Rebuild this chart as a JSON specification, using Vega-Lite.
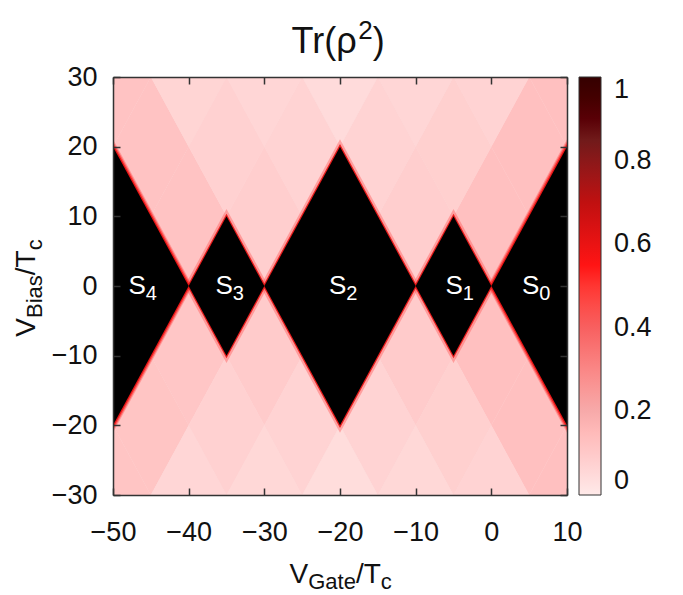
{
  "$schema": "https://vega.github.io/schema/vega-lite/v6.json",
  "width": 454,
  "height": 418,
  "autosize": {"type": "none"},
  "padding": {"left": 113, "top": 77, "right": 116, "bottom": 100},
  "background": "white",
  "config": {"font": "Liberation Sans", "view": {"stroke": null, "fill": "#fbdada"}},
  "datasets": {
    "cells": [
      {"id": 1, "x": -45, "y": 10, "y2": 10, "v": 0.12}, {"id": 1, "x": -40, "y": 20, "y2": 0, "v": 0.12}, {"id": 1, "x": -35, "y": 10, "y2": 10, "v": 0.12},
      {"id": 2, "x": -35, "y": 10, "y2": 10, "v": 0.085}, {"id": 2, "x": -30, "y": 20, "y2": 0, "v": 0.085}, {"id": 2, "x": -25, "y": 10, "y2": 10, "v": 0.085},
      {"id": 3, "x": -15, "y": 10, "y2": 10, "v": 0.085}, {"id": 3, "x": -10, "y": 20, "y2": 0, "v": 0.085}, {"id": 3, "x": -5, "y": 10, "y2": 10, "v": 0.085},
      {"id": 4, "x": -5, "y": 10, "y2": 10, "v": 0.13}, {"id": 4, "x": 0, "y": 20, "y2": 0, "v": 0.13}, {"id": 4, "x": 5, "y": 10, "y2": 10, "v": 0.13},
      {"id": 5, "x": -50, "y": 20, "y2": 20, "v": 0.12}, {"id": 5, "x": -45, "y": 30, "y2": 10, "v": 0.12}, {"id": 5, "x": -40, "y": 20, "y2": 20, "v": 0.12},
      {"id": 6, "x": -40, "y": 20, "y2": 20, "v": 0.075}, {"id": 6, "x": -35, "y": 30, "y2": 10, "v": 0.075}, {"id": 6, "x": -30, "y": 20, "y2": 20, "v": 0.075},
      {"id": 7, "x": -30, "y": 20, "y2": 20, "v": 0.07}, {"id": 7, "x": -25, "y": 30, "y2": 10, "v": 0.07}, {"id": 7, "x": -20, "y": 20, "y2": 20, "v": 0.07},
      {"id": 8, "x": -20, "y": 20, "y2": 20, "v": 0.07}, {"id": 8, "x": -15, "y": 30, "y2": 10, "v": 0.07}, {"id": 8, "x": -10, "y": 20, "y2": 20, "v": 0.07},
      {"id": 9, "x": -10, "y": 20, "y2": 20, "v": 0.08}, {"id": 9, "x": -5, "y": 30, "y2": 10, "v": 0.08}, {"id": 9, "x": 0, "y": 20, "y2": 20, "v": 0.08},
      {"id": 10, "x": 0, "y": 20, "y2": 20, "v": 0.13}, {"id": 10, "x": 5, "y": 30, "y2": 10, "v": 0.13}, {"id": 10, "x": 10, "y": 20, "y2": 20, "v": 0.13},
      {"id": 11, "x": -55, "y": 30, "y2": 30, "v": 0.12}, {"id": 11, "x": -50, "y": 40, "y2": 20, "v": 0.12}, {"id": 11, "x": -45, "y": 30, "y2": 30, "v": 0.12},
      {"id": 12, "x": -45, "y": 30, "y2": 30, "v": 0.065}, {"id": 12, "x": -40, "y": 40, "y2": 20, "v": 0.065}, {"id": 12, "x": -35, "y": 30, "y2": 30, "v": 0.065},
      {"id": 13, "x": -35, "y": 30, "y2": 30, "v": 0.06}, {"id": 13, "x": -30, "y": 40, "y2": 20, "v": 0.06}, {"id": 13, "x": -25, "y": 30, "y2": 30, "v": 0.06},
      {"id": 14, "x": -25, "y": 30, "y2": 30, "v": 0.045}, {"id": 14, "x": -20, "y": 40, "y2": 20, "v": 0.045}, {"id": 14, "x": -15, "y": 30, "y2": 30, "v": 0.045},
      {"id": 15, "x": -15, "y": 30, "y2": 30, "v": 0.06}, {"id": 15, "x": -10, "y": 40, "y2": 20, "v": 0.06}, {"id": 15, "x": -5, "y": 30, "y2": 30, "v": 0.06},
      {"id": 16, "x": -5, "y": 30, "y2": 30, "v": 0.07}, {"id": 16, "x": 0, "y": 40, "y2": 20, "v": 0.07}, {"id": 16, "x": 5, "y": 30, "y2": 30, "v": 0.07},
      {"id": 17, "x": 5, "y": 30, "y2": 30, "v": 0.13}, {"id": 17, "x": 10, "y": 40, "y2": 20, "v": 0.13}, {"id": 17, "x": 15, "y": 30, "y2": 30, "v": 0.13},
      {"id": 18, "x": -45, "y": -10, "y2": -10, "v": 0.11}, {"id": 18, "x": -40, "y": 0, "y2": -20, "v": 0.11}, {"id": 18, "x": -35, "y": -10, "y2": -10, "v": 0.11},
      {"id": 19, "x": -35, "y": -10, "y2": -10, "v": 0.095}, {"id": 19, "x": -30, "y": 0, "y2": -20, "v": 0.095}, {"id": 19, "x": -25, "y": -10, "y2": -10, "v": 0.095},
      {"id": 20, "x": -15, "y": -10, "y2": -10, "v": 0.095}, {"id": 20, "x": -10, "y": 0, "y2": -20, "v": 0.095}, {"id": 20, "x": -5, "y": -10, "y2": -10, "v": 0.095},
      {"id": 21, "x": -5, "y": -10, "y2": -10, "v": 0.13}, {"id": 21, "x": 0, "y": 0, "y2": -20, "v": 0.13}, {"id": 21, "x": 5, "y": -10, "y2": -10, "v": 0.13},
      {"id": 22, "x": -50, "y": -20, "y2": -20, "v": 0.115}, {"id": 22, "x": -45, "y": -10, "y2": -30, "v": 0.115}, {"id": 22, "x": -40, "y": -20, "y2": -20, "v": 0.115},
      {"id": 23, "x": -40, "y": -20, "y2": -20, "v": 0.075}, {"id": 23, "x": -35, "y": -10, "y2": -30, "v": 0.075}, {"id": 23, "x": -30, "y": -20, "y2": -20, "v": 0.075},
      {"id": 24, "x": -30, "y": -20, "y2": -20, "v": 0.07}, {"id": 24, "x": -25, "y": -10, "y2": -30, "v": 0.07}, {"id": 24, "x": -20, "y": -20, "y2": -20, "v": 0.07},
      {"id": 25, "x": -20, "y": -20, "y2": -20, "v": 0.07}, {"id": 25, "x": -15, "y": -10, "y2": -30, "v": 0.07}, {"id": 25, "x": -10, "y": -20, "y2": -20, "v": 0.07},
      {"id": 26, "x": -10, "y": -20, "y2": -20, "v": 0.08}, {"id": 26, "x": -5, "y": -10, "y2": -30, "v": 0.08}, {"id": 26, "x": 0, "y": -20, "y2": -20, "v": 0.08},
      {"id": 27, "x": 0, "y": -20, "y2": -20, "v": 0.13}, {"id": 27, "x": 5, "y": -10, "y2": -30, "v": 0.13}, {"id": 27, "x": 10, "y": -20, "y2": -20, "v": 0.13},
      {"id": 28, "x": -55, "y": -30, "y2": -30, "v": 0.115}, {"id": 28, "x": -50, "y": -20, "y2": -40, "v": 0.115}, {"id": 28, "x": -45, "y": -30, "y2": -30, "v": 0.115},
      {"id": 29, "x": -45, "y": -30, "y2": -30, "v": 0.06}, {"id": 29, "x": -40, "y": -20, "y2": -40, "v": 0.06}, {"id": 29, "x": -35, "y": -30, "y2": -30, "v": 0.06},
      {"id": 30, "x": -35, "y": -30, "y2": -30, "v": 0.055}, {"id": 30, "x": -30, "y": -20, "y2": -40, "v": 0.055}, {"id": 30, "x": -25, "y": -30, "y2": -30, "v": 0.055},
      {"id": 31, "x": -25, "y": -30, "y2": -30, "v": 0.04}, {"id": 31, "x": -20, "y": -20, "y2": -40, "v": 0.04}, {"id": 31, "x": -15, "y": -30, "y2": -30, "v": 0.04},
      {"id": 32, "x": -15, "y": -30, "y2": -30, "v": 0.055}, {"id": 32, "x": -10, "y": -20, "y2": -40, "v": 0.055}, {"id": 32, "x": -5, "y": -30, "y2": -30, "v": 0.055},
      {"id": 33, "x": -5, "y": -30, "y2": -30, "v": 0.07}, {"id": 33, "x": 0, "y": -20, "y2": -40, "v": 0.07}, {"id": 33, "x": 5, "y": -30, "y2": -30, "v": 0.07},
      {"id": 34, "x": 5, "y": -30, "y2": -30, "v": 0.13}, {"id": 34, "x": 10, "y": -20, "y2": -40, "v": 0.13}, {"id": 34, "x": 15, "y": -30, "y2": -30, "v": 0.13}
    ],
    "diamonds": [
      {"s": "S4", "x": -60, "y": 40, "y2": -40}, {"s": "S4", "x": -40, "y": 0, "y2": 0},
      {"s": "S3", "x": -40, "y": 0, "y2": 0}, {"s": "S3", "x": -35, "y": 10, "y2": -10}, {"s": "S3", "x": -30, "y": 0, "y2": 0},
      {"s": "S2", "x": -30, "y": 0, "y2": 0}, {"s": "S2", "x": -20, "y": 20, "y2": -20}, {"s": "S2", "x": -10, "y": 0, "y2": 0},
      {"s": "S1", "x": -10, "y": 0, "y2": 0}, {"s": "S1", "x": -5, "y": 10, "y2": -10}, {"s": "S1", "x": 0, "y": 0, "y2": 0},
      {"s": "S0", "x": 0, "y": 0, "y2": 0}, {"s": "S0", "x": 20, "y": 40, "y2": -40}
    ],
    "edges": [
      {"s": "S4", "o": 1, "x": -60, "y": 40}, {"s": "S4", "o": 2, "x": -40, "y": 0}, {"s": "S4", "o": 3, "x": -60, "y": -40},
      {"s": "S3", "o": 1, "x": -40, "y": 0}, {"s": "S3", "o": 2, "x": -35, "y": 10}, {"s": "S3", "o": 3, "x": -30, "y": 0}, {"s": "S3", "o": 4, "x": -35, "y": -10}, {"s": "S3", "o": 5, "x": -40, "y": 0},
      {"s": "S2", "o": 1, "x": -30, "y": 0}, {"s": "S2", "o": 2, "x": -20, "y": 20}, {"s": "S2", "o": 3, "x": -10, "y": 0}, {"s": "S2", "o": 4, "x": -20, "y": -20}, {"s": "S2", "o": 5, "x": -30, "y": 0},
      {"s": "S1", "o": 1, "x": -10, "y": 0}, {"s": "S1", "o": 2, "x": -5, "y": 10}, {"s": "S1", "o": 3, "x": 0, "y": 0}, {"s": "S1", "o": 4, "x": -5, "y": -10}, {"s": "S1", "o": 5, "x": -10, "y": 0},
      {"s": "S0", "o": 1, "x": 20, "y": 40}, {"s": "S0", "o": 2, "x": 0, "y": 0}, {"s": "S0", "o": 3, "x": 20, "y": -40}
    ],
    "labels": [
      {"x": -45.8, "y": 0, "n": "4"},
      {"x": -34.3, "y": 0, "n": "3"},
      {"x": -19.3, "y": 0, "n": "2"},
      {"x": -3.9, "y": 0, "n": "1"},
      {"x": 6.2, "y": 0, "n": "0"}
    ]
  },
  "resolve": {"axis": {"x": "independent", "y": "independent"}},
  "layer": [
    {
      "data": {"name": "cells"},
      "mark": {"type": "area", "clip": true, "interpolate": "linear"},
      "encoding": {
        "x": {"field": "x", "type": "quantitative",
          "scale": {"domain": [-50, 10], "nice": false, "zero": false},
          "axis": {"orient": "bottom", "values": [-50, -40, -30, -20, -10, 0, 10], "grid": false, "domain": true, "domainColor": "#333", "domainWidth": 1.5,
            "ticks": true, "tickSize": -7, "tickColor": "#333", "tickWidth": 1.5, "labelFontSize": 27, "labelColor": "#111", "labelPadding": 31, "labelFlush": false, "zindex": 1,
            "title": "V", "titleFontSize": 28, "titleFontWeight": "normal", "titleColor": "#111", "titleX": 176, "titleY": 87, "titleAlign": "left", "titleBaseline": "alphabetic", "titleAngle": 0}},
        "y": {"field": "y", "type": "quantitative",
          "scale": {"domain": [-30, 30], "nice": false, "zero": false},
          "axis": {"orient": "left", "values": [-30, -20, -10, 0, 10, 20, 30], "grid": false, "domain": true, "domainColor": "#333", "domainWidth": 1.5,
            "ticks": true, "tickSize": -7, "tickColor": "#333", "tickWidth": 1.5, "labelFontSize": 27, "labelColor": "#111", "labelPadding": 23, "labelFlush": false, "zindex": 1,
            "title": "V", "titleFontSize": 28, "titleFontWeight": "normal", "titleColor": "#111", "titleX": -78.5, "titleY": 259.2, "titleAlign": "left", "titleBaseline": "alphabetic", "titleAngle": -90}},
        "y2": {"field": "y2"},
        "detail": {"field": "id"},
        "color": {"field": "v", "type": "quantitative",
          "scale": {"domain": [0, 0.2, 0.4, 0.55, 0.7, 0.85, 1], "range": ["#ffffff", "#f7aaaa", "#f86060", "#ff1414", "#c01010", "#701a1a", "#000000"]},
          "legend": {"title": null, "orient": "right", "offset": 11, "direction": "vertical", "gradientLength": 418, "gradientThickness": 22,
            "gradientStrokeColor": "#333", "gradientStrokeWidth": 1, "labelFontSize": 27, "labelColor": "#111", "labelOffset": 13,
            "values": [0, 0.2, 0.4, 0.6, 0.8, 1], "format": "~g", "labelOverlap": false, "padding": 0}}
      }
    },
    {
      "data": {"name": "edges"},
      "mark": {"type": "line", "clip": true, "strokeWidth": 7, "opacity": 0.4, "color": "#ff5050"},
      "encoding": {
        "x": {"field": "x", "type": "quantitative",
          "axis": {"orient": "top", "values": [-50, -40, -30, -20, -10, 0, 10], "grid": false, "domain": true, "domainColor": "#333", "domainWidth": 1.5,
            "ticks": true, "tickSize": -7, "tickColor": "#333", "tickWidth": 1.5, "labels": false, "zindex": 1,
            "title": "Tr(ρ", "titleFontSize": 36, "titleFontWeight": "normal", "titleColor": "#111", "titleX": 178, "titleY": -25, "titleAlign": "left", "titleBaseline": "alphabetic", "titleAngle": 0}},
        "y": {"field": "y", "type": "quantitative",
          "axis": {"orient": "right", "values": [-30, -20, -10, 0, 10, 20, 30], "grid": false, "domain": true, "domainColor": "#333", "domainWidth": 1.5,
            "ticks": true, "tickSize": -7, "tickColor": "#333", "tickWidth": 1.5, "labels": false, "zindex": 1, "title": null}},
        "detail": {"field": "s"},
        "order": {"field": "o"}
      }
    },
    {
      "data": {"name": "edges"},
      "transform": [{"filter": {"field": "s", "oneOf": ["S4", "S0"]}}],
      "mark": {"type": "line", "clip": true, "strokeWidth": 5, "opacity": 0.55, "color": "#ff2020"},
      "encoding": {
        "x": {"field": "x", "type": "quantitative", "axis": null},
        "y": {"field": "y", "type": "quantitative", "axis": null},
        "detail": {"field": "s"},
        "order": {"field": "o"}
      }
    },
    {
      "data": {"name": "edges"},
      "mark": {"type": "line", "clip": true, "strokeWidth": 2.5, "opacity": 0.9, "color": "#e81010"},
      "encoding": {
        "x": {"field": "x", "type": "quantitative",
          "axis": {"orient": "bottom", "grid": false, "domain": false, "ticks": false, "labels": false, "zindex": 1,
            "title": "Gate", "titleFontSize": 22, "titleFontWeight": "normal", "titleColor": "#111", "titleX": 194.7, "titleY": 93, "titleAlign": "left", "titleBaseline": "alphabetic", "titleAngle": 0}},
        "y": {"field": "y", "type": "quantitative",
          "axis": {"orient": "left", "grid": false, "domain": false, "ticks": false, "labels": false, "zindex": 1,
            "title": "Bias", "titleFontSize": 22, "titleFontWeight": "normal", "titleColor": "#111", "titleX": -71.5, "titleY": 240.5, "titleAlign": "left", "titleBaseline": "alphabetic", "titleAngle": -90}},
        "detail": {"field": "s"},
        "order": {"field": "o"}
      }
    },
    {
      "data": {"name": "diamonds"},
      "mark": {"type": "area", "clip": true, "interpolate": "linear", "color": "#000000"},
      "encoding": {
        "x": {"field": "x", "type": "quantitative",
          "axis": {"orient": "bottom", "grid": false, "domain": false, "ticks": false, "labels": false, "zindex": 1,
            "title": "/T", "titleFontSize": 28, "titleFontWeight": "normal", "titleColor": "#111", "titleX": 242.4, "titleY": 87, "titleAlign": "left", "titleBaseline": "alphabetic", "titleAngle": 0}},
        "y": {"field": "y", "type": "quantitative",
          "axis": {"orient": "left", "grid": false, "domain": false, "ticks": false, "labels": false, "zindex": 1,
            "title": "/T", "titleFontSize": 28, "titleFontWeight": "normal", "titleColor": "#111", "titleX": -78.5, "titleY": 197.7, "titleAlign": "left", "titleBaseline": "alphabetic", "titleAngle": -90}},
        "y2": {"field": "y2"},
        "detail": {"field": "s"}
      }
    },
    {
      "data": {"name": "labels"},
      "mark": {"type": "text", "text": "S", "fontSize": 26, "color": "white", "align": "right", "baseline": "middle", "dx": 1},
      "encoding": {
        "x": {"field": "x", "type": "quantitative",
          "axis": {"orient": "bottom", "grid": false, "domain": false, "ticks": false, "labels": false, "zindex": 1,
            "title": "c", "titleFontSize": 22, "titleFontWeight": "normal", "titleColor": "#111", "titleX": 267.3, "titleY": 93, "titleAlign": "left", "titleBaseline": "alphabetic", "titleAngle": 0}},
        "y": {"field": "y", "type": "quantitative",
          "axis": {"orient": "left", "grid": false, "domain": false, "ticks": false, "labels": false, "zindex": 1,
            "title": "c", "titleFontSize": 22, "titleFontWeight": "normal", "titleColor": "#111", "titleX": -71.5, "titleY": 172.8, "titleAlign": "left", "titleBaseline": "alphabetic", "titleAngle": -90}}
      }
    },
    {
      "data": {"name": "labels"},
      "mark": {"type": "text", "fontSize": 20, "color": "white", "align": "left", "baseline": "middle", "dx": 1, "dy": 8},
      "encoding": {
        "x": {"field": "x", "type": "quantitative",
          "axis": {"orient": "top", "grid": false, "domain": false, "ticks": false, "labels": false, "zindex": 1,
            "title": "2", "titleFontSize": 26, "titleFontWeight": "normal", "titleColor": "#111", "titleX": 244.8, "titleY": -39, "titleAlign": "left", "titleBaseline": "alphabetic", "titleAngle": 0}},
        "y": {"field": "y", "type": "quantitative",
          "axis": {"orient": "right", "grid": false, "domain": false, "ticks": false, "labels": false, "zindex": 1,
            "title": ")", "titleFontSize": 36, "titleFontWeight": "normal", "titleColor": "#111", "titleX": -194.7, "titleY": -25, "titleAlign": "left", "titleBaseline": "alphabetic", "titleAngle": 0}},
        "text": {"field": "n"}
      }
    }
  ]
}
